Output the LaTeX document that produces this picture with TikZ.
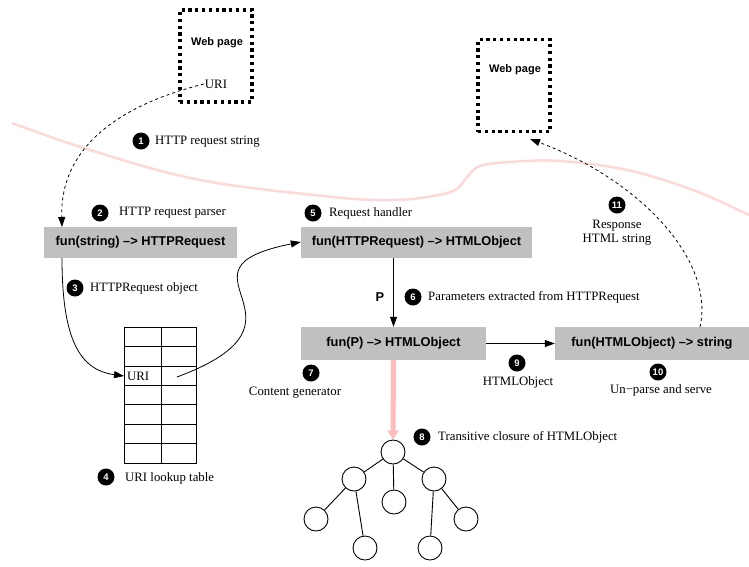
\documentclass[tikz,border=0pt]{standalone}
\usepackage{fontspec}
\setmainfont{Liberation Serif}
\setsansfont{Liberation Sans}
\usepackage{tikz}
\usetikzlibrary{arrows.meta,calc}
\definecolor{boxgray}{RGB}{192,192,192}
\definecolor{borderpink}{RGB}{255,216,216}
\definecolor{flowpink}{RGB}{255,188,188}
\tikzset{
  txt/.style={font=\fontsize{12.8}{14.5}\selectfont, inner sep=1pt},
  fun/.style={fill=boxgray, font=\sffamily\bfseries\fontsize{12.8}{14}\selectfont, minimum height=31pt, inner sep=0pt},
  num/.style={circle, fill=black, text=white, font=\sffamily\bfseries\fontsize{9.5}{9.5}\selectfont, minimum size=17pt, inner sep=0pt},
  page/.style={draw, line width=3.2pt, dash pattern=on 3.2pt off 3.6pt, minimum width=72pt, minimum height=92pt},
  obj/.style={circle, draw, line width=0.9pt, minimum size=24pt, inner sep=0pt},
  arr/.style={line width=0.8pt, -{Triangle[length=10pt,width=7pt]}},
  dsh/.style={dash pattern=on 3pt off 3pt},
}

\begin{document}
\begin{tikzpicture}[x=1pt, y=-1pt]
    \useasboundingbox (0,0) rectangle (749,566);

    % boundary between browser and server
    \draw[borderpink, line width=2.5pt] plot[smooth, tension=0.6] coordinates {(12,123) (90,150) (200,180) (333,197) (390,200) (427,197) (455,190) (468,176) (480,166) (510,162) (560,161) (627,170) (693,190) (749,215)};

    % web pages
    \node[page] (page1) at (216,56) {};
    \node[font=\sffamily\bfseries\fontsize{11}{12}\selectfont] (page1t) at (217,43) {Web page};
    \node[txt] (uri1) at (216,84) {URI};
    \node[page] (page2) at (514,85.5) {};
    \node[font=\sffamily\bfseries\fontsize{11}{12}\selectfont] (page2t) at (515,70) {Web page};

    % functions
    \node[fun, minimum width=193pt] (box2) at (140.5,242.5) {fun(string) --{}> HTTPRequest};
    \node[fun, minimum width=231pt] (box5) at (416.5,242) {fun(HTTPRequest) --{}> HTMLObject};
    \node[fun, minimum width=185pt, minimum height=33pt] (box7) at (393.5,343.5) {fun(P) --{}> HTMLObject};
    \node[fun, minimum width=194pt, minimum height=33pt] (box10) at (652,343.5) {fun(HTMLObject) --{}> string};

    % lookup table
    \draw[line width=0.7pt] (124,327) rectangle (196,463);
    \draw[line width=0.7pt] (161,327) -- (161,463);
    \foreach \r in {1,...,6}
        \draw[line width=0.7pt] (124,{327+19.43*\r}) -- (196,{327+19.43*\r});
    \node[txt, anchor=west] (urikey) at (126,376) {URI};
    \coordinate (urirow) at (124,376);
    \coordinate (urival) at (177,377);

    % numbered labels
    \node[num] (n1) at (141,141) {1};
    \node[txt, anchor=west] (l1) at (154,142) {HTTP request string};
    \node[num] (n2) at (100,213) {2};
    \node[txt, anchor=west] (l2) at (118,213) {HTTP request parser};
    \node[num] (n3) at (75,288) {3};
    \node[txt, anchor=west] (l3) at (89,288) {HTTPRequest object};
    \node[num] (n4) at (106,477) {4};
    \node[txt, anchor=west] (l4) at (124,478) {URI lookup table};
    \node[num] (n5) at (313,213) {5};
    \node[txt, anchor=west] (l5) at (328,213) {Request handler};
    \node[num] (n6) at (413,297) {6};
    \node[txt, anchor=west] (l6) at (427,297) {Parameters extracted from HTTPRequest};
    \node[font=\sffamily\bfseries\fontsize{12.8}{14}\selectfont] (pp) at (380,297) {P};
    \node[num] (n7) at (311,373) {7};
    \node[txt] (l7) at (295,393) {Content generator};
    \node[num] (n8) at (422,437) {8};
    \node[txt, anchor=west] (l8) at (437,437) {Transitive closure of HTMLObject};
    \node[num] (n9) at (517,363) {9};
    \node[txt] (l9) at (518,382) {HTMLObject};
    \node[num] (n10) at (658,372) {10};
    \node[txt] (l10) at (661,390) {Un−parse and serve};
    \node[num] (n11) at (617,205) {11};
    \node[txt, align=center] (l11) at (617,232.5) {Response\\HTML string};

    % object tree
    \node[obj] (t0) at (393,452) {};
    \node[obj] (t1) at (354,479) {};
    \node[obj] (t2) at (394,502) {};
    \node[obj] (t3) at (434,479) {};
    \node[obj] (t4) at (316,519) {};
    \node[obj] (t5) at (365,548) {};
    \node[obj] (t6) at (430,548) {};
    \node[obj] (t7) at (466,519) {};
    \draw[line width=0.9pt] (t0) -- (t1) (t0) -- (t2) (t0) -- (t3) (t1) -- (t4) (t1) -- (t5) (t3) -- (t6) (t3) -- (t7);

    % flow
    \coordinate (box2in) at (62,227);
    \coordinate (box2out) at (62,258);
    \coordinate (box10in) at (700,327);
    \coordinate (page2in) at (530,139);
    \draw[arr, dsh] (uri1.west) .. controls (100,110) and (60,160) .. (box2in);
    \draw[arr] (box2out) .. controls (62,340) and (80,370) .. (urirow);
    \draw[arr] (urival) .. controls (330,320) and (160,270) .. (box5.west);
    \draw[arr] (box5.south -| box7.north) -- (box7.north);
    \draw[arr] (box7.east) -- (box10.west);
    \draw[arr, dsh] (box10in) .. controls (715,260) and (640,180) .. (page2in);
    \draw[flowpink, line width=5pt, -{Triangle[length=9pt,width=11pt]}] (box7.south) -- (t0.north);
\end{tikzpicture}
\end{document}
